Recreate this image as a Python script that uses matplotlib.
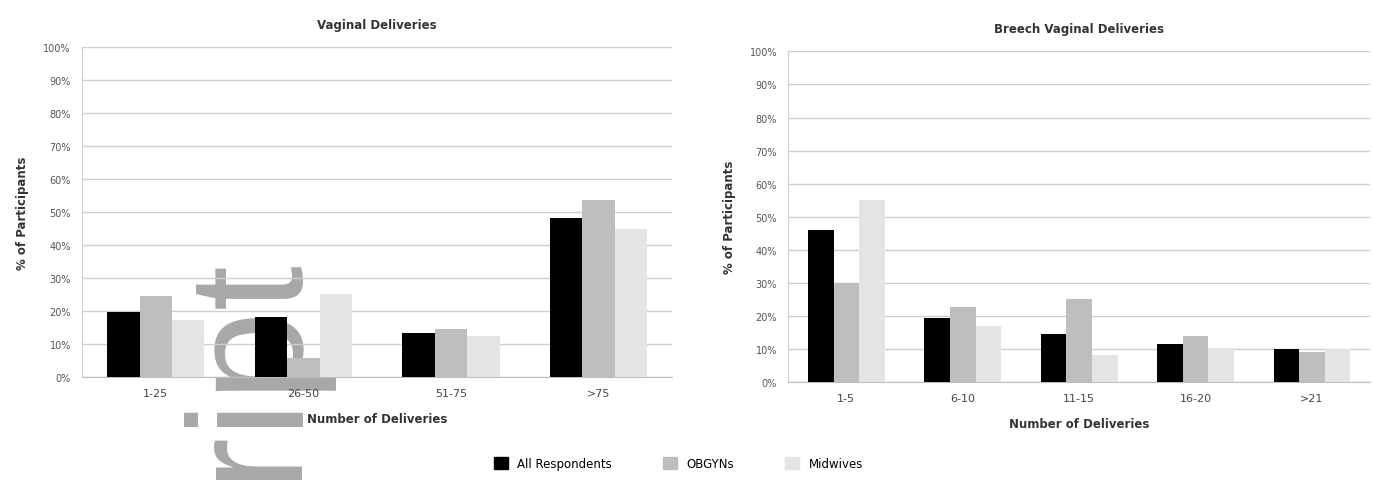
import numpy as np
from matplotlib import pyplot as plt
from matplotlib.patches import Patch

# dati (% di partecipanti)
series = ["All Respondents", "OBGYNs", "Midwives"]
colori = ["#000000", "#bebebe", "#e4e4e4"]

cat_vag = ["1-25", "26-50", "51-75", ">75"]
vag_all = [19.8, 18.2, 13.3, 48.2]
vag_obgyn = [24.5, 5.7, 14.6, 53.7]
vag_midw = [17.2, 25.3, 12.3, 44.8]

cat_breech = ["1-5", "6-10", "11-15", "16-20", ">21"]
breech_all = [46.1, 19.4, 14.6, 11.4, 9.9]
breech_obgyn = [30.0, 22.7, 25.2, 13.9, 9.1]
breech_midw = [54.9, 16.9, 8.1, 10.3, 9.9]

fig = plt.figure(figsize=(13.73, 4.81), dpi=100)
ax1 = fig.add_axes([0.0597, 0.214, 0.430, 0.686])
ax2 = fig.add_axes([0.574, 0.204, 0.424, 0.687])

def disegna(ax, cats, valori, titolo):
    x = np.arange(len(cats))
    w = 0.22
    for i, (v, c) in enumerate(zip(valori, colori)):
        ax.bar(x + (i - 1) * w, v, width=w, color=c, zorder=3)
    ax.set_xlim(-0.5, len(cats) - 0.5)
    ax.set_ylim(0, 100)
    ax.set_yticks(np.arange(0, 101, 10))
    ax.set_yticklabels([f"{t}%" for t in range(0, 101, 10)], fontsize=7, color="#555555")
    ax.set_xticks(x)
    ax.set_xticklabels(cats, fontsize=8, color="#444444")
    ax.tick_params(length=0, pad=8)
    ax.grid(axis="y", color="#cfcfcf", lw=1, zorder=0)
    ax.set_facecolor("none")
    for s in ["top", "right"]:
        ax.spines[s].set_visible(False)
    ax.spines["left"].set_color("#d0d0d0")
    ax.spines["bottom"].set_color("#bdbdbd")
    ax.set_title(titolo, fontsize=8.5, fontweight="bold", color="#333333", pad=14)
    ax.set_xlabel("Number of Deliveries", fontsize=8.5, fontweight="bold", color="#333333", labelpad=10)
    ax.set_ylabel("% of Participants", fontsize=8.5, fontweight="bold", color="#333333", labelpad=10)

disegna(ax1, cat_vag, [vag_all, vag_obgyn, vag_midw], "Vaginal Deliveries")
disegna(ax2, cat_breech, [breech_all, breech_obgyn, breech_midw], "Breech Vaginal Deliveries")

# legenda comune in basso
handles = [Patch(color=c, label=s) for s, c in zip(series, colori)]
fig.legend(handles=handles, loc="center", bbox_to_anchor=(0.494, 0.035), ncol=3,
           frameon=False, fontsize=8.5, handlelength=1.2, handleheight=1.2, columnspacing=4.3)

# filigrana "ript" (Author Manuscript) sotto le barre
fig.text(0.213, 0.003, "ript", rotation=90, rotation_mode="anchor", ha="left", va="baseline",
         fontsize=117, family="Liberation Sans", color="#a8a8a8", zorder=-1)

fig.savefig("out.png", dpi=100)
